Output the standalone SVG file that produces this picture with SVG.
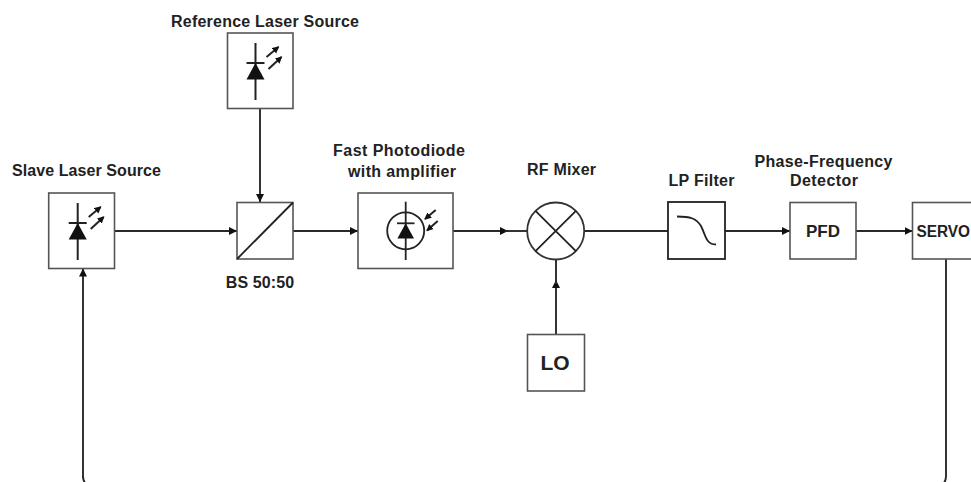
<svg xmlns="http://www.w3.org/2000/svg" width="971" height="482" viewBox="0 0 971 482">
<style>
text{font-family:"Liberation Sans",Arial,sans-serif;font-weight:bold;font-size:16px;fill:#222;text-anchor:middle}
.b{fill:#fff;stroke:#555;stroke-width:1.6}
.c{fill:none;stroke:#2a2a2a;stroke-width:1.9}
.i{fill:none;stroke:#222;stroke-width:1.8}
.h{fill:none;stroke:#222;stroke-width:2}
.f{fill:#111;stroke:none}
</style>
<defs>
<marker id="a" markerUnits="userSpaceOnUse" markerWidth="10" markerHeight="10" refX="8" refY="4" orient="auto"><path d="M0 0L8 4L0 8Z" fill="#111"/></marker>
<marker id="s" markerUnits="userSpaceOnUse" markerWidth="8" markerHeight="8" refX="6" refY="3.500" orient="auto"><path d="M0 0L7 3.500L0 7Z" fill="#111"/></marker>
<g id="laser">
<path class="h" d="M0-28V29"/><path class="h" d="M-9-8H9"/><path class="f" d="M0-8L9 8.500H-9Z"/>
<path class="h" marker-end="url(#s)" d="M11-14L23-24"/><path class="h" marker-end="url(#s)" d="M13-2L26-14"/>
</g>
</defs>
<g id="connectors">
<path class="c" marker-end="url(#a)" d="M260 108.500V202"/>
<path class="c" marker-end="url(#a)" d="M114.500 231H237"/>
<path class="c" marker-end="url(#a)" d="M293 231H358"/>
<path class="c" marker-end="url(#a)" d="M453 231H508"/>
<path class="c" d="M505 231H527"/>
<path class="c" marker-end="url(#a)" d="M556 334.500V280"/>
<path class="c" d="M556 284V259.500"/>
<path class="c" d="M584.500 231H668"/>
<path class="c" marker-end="url(#a)" d="M725 231H790"/>
<path class="c" marker-end="url(#a)" d="M856 231H912.500"/>
<path class="c" d="M946 259V476Q946 486 936 486H93Q83 486 83 476"/>
<path class="c" marker-end="url(#a)" d="M83 478V268.500"/>
</g>
<g id="reference-laser"><text x="265" y="26.500" textLength="188">Reference Laser Source</text><rect class="b" x="227.500" y="33" width="65.500" height="75.500"/><use href="#laser" x="255.500" y="71"/></g>
<g id="slave-laser"><text x="86.500" y="175.500" textLength="149">Slave Laser Source</text><rect class="b" x="48.700" y="193" width="65.800" height="75.500"/><use href="#laser" x="77.700" y="231"/></g>
<g id="beam-splitter"><rect class="b" x="237" y="202.500" width="56" height="56.500"/><path class="i" d="M237 259L293 202.500"/><text x="260" y="288" textLength="68.500">BS 50:50</text></g>
<g id="photodiode"><text x="399" y="155.500" textLength="132">Fast Photodiode</text><text x="402" y="177" textLength="108">with amplifier</text><rect class="b" x="358" y="193" width="95" height="75.500"/>
<circle class="i" cx="405.700" cy="230.800" r="18.500"/><path class="i" d="M405.700 201.700V260"/><path class="i" d="M397 223.300H414.500"/><path class="f" d="M405.700 223.300L414 238.500H397.400Z"/>
<path class="h" marker-end="url(#s)" d="M435.700 210L425 219"/><path class="h" marker-end="url(#s)" d="M437.700 221L427 230.500"/></g>
<g id="rf-mixer"><text x="561.500" y="175" textLength="69">RF Mixer</text><circle cx="555.700" cy="231" r="28.500" fill="#fff" stroke="#333" stroke-width="1.800"/><path class="i" d="M535.500 210.800L575.900 251.200M575.900 210.800L535.500 251.200"/></g>
<g id="lo"><rect class="b" x="527.500" y="334.500" width="57" height="56.500"/><text x="555" y="370" style="font-size:21px">LO</text></g>
<g id="lp-filter"><text x="701.500" y="186" textLength="66">LP Filter</text><rect x="668" y="202" width="57" height="57" fill="#fff" stroke="#222" stroke-width="1.800"/><path class="i" d="M677 216.500C690 216.500 696 218 701 226C706 236 706 244.500 716 244.500"/></g>
<g id="pfd"><text x="823.500" y="166.500" textLength="138">Phase-Frequency</text><text x="824" y="186" textLength="68">Detector</text><rect class="b" x="790" y="202.500" width="66" height="56.500"/><text x="823" y="237" style="font-size:17px">PFD</text></g>
<g id="servo"><rect class="b" x="912.500" y="202.500" width="70" height="56.500"/><text x="916.500" y="237" textLength="53.500" lengthAdjust="spacingAndGlyphs" style="font-size:16px;text-anchor:start">SERVO</text></g>
</svg>
